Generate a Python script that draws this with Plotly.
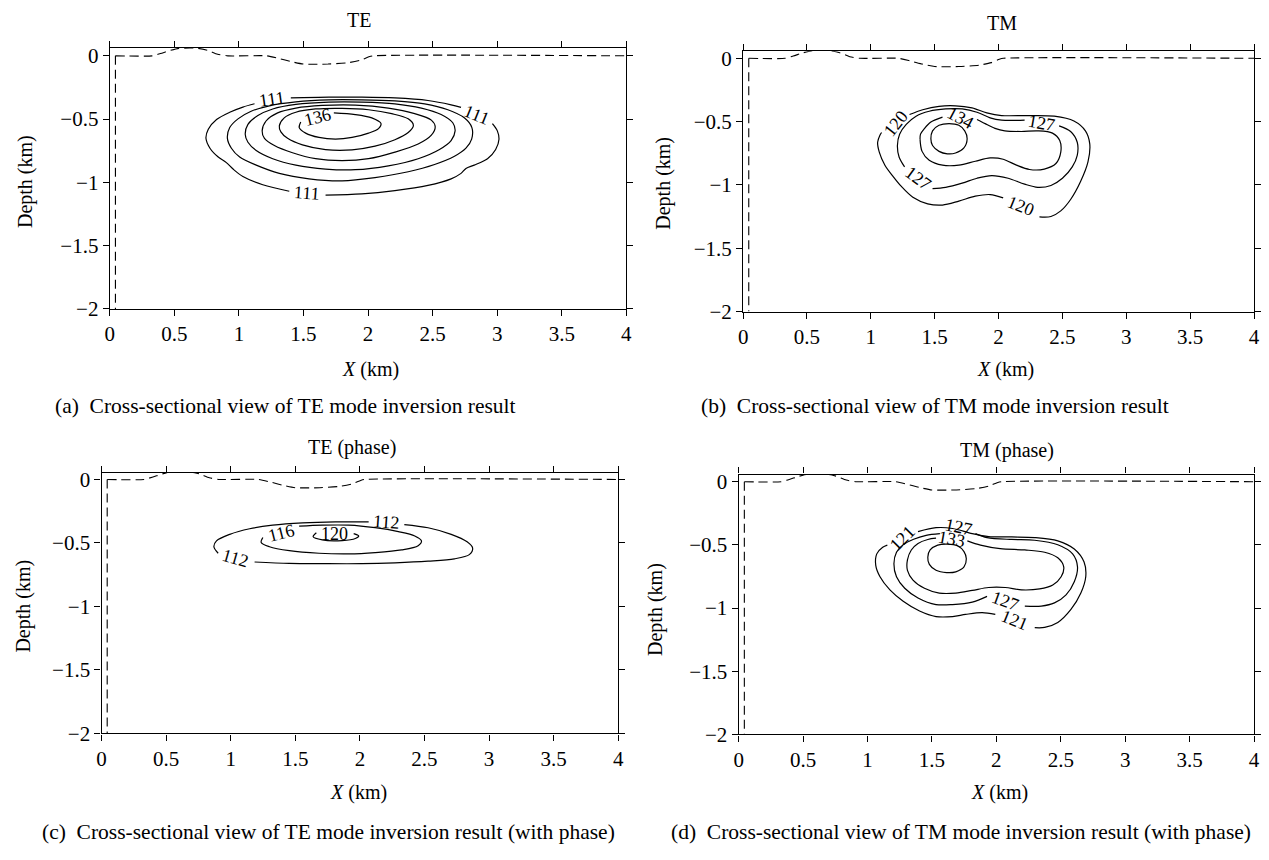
import plotly.graph_objects as go

FONT = "Liberation Serif"

# ---------------- data (km) ----------------
x_ticks = [0, 0.5, 1, 1.5, 2, 2.5, 3, 3.5, 4]
x_tick_text = ["0", "0.5", "1", "1.5", "2", "2.5", "3", "3.5", "4"]
y_ticks = [-2, -1.5, -1, -0.5, 0]
y_tick_text = ["\u22122", "\u22121.5", "\u22121", "\u22120.5", "0"]

# topography (dashed) and left model boundary
topo_x = [0.044, 0.329, 0.392, 0.472, 0.535, 0.677, 0.756, 0.835, 0.915, 1.215, 1.310, 1.405,
          1.500, 1.690, 1.848, 1.943, 2.006, 2.038, 4.0]
topo_y = [0, 0, 0.018, 0.044, 0.059, 0.060, 0.044, 0.013, 0, 0, -0.021, -0.046,
          -0.065, -0.065, -0.054, -0.034, -0.008, 0, 0]
edge_x = [0.044, 0.044]
edge_y = [0, -2]

# (a) TE
te_111_x = [1.402, 1.697, 1.952, 2.208, 2.464, 2.643, 2.720, None, 2.963, 3.001, 3.014, 2.988, 2.925,
            2.822, 2.758, 2.720, 2.643, 2.464, 2.208, 1.952, 1.671, None, 1.390, 1.185, 1.031, 0.955,
            0.903, 0.840, 0.776, 0.745, 0.763, 0.827, 0.929, 1.031, 1.121]
te_111_y = [-0.333, -0.327, -0.327, -0.333, -0.353, -0.387, -0.407, None, -0.536, -0.593, -0.658, -0.740,
            -0.813, -0.864, -0.890, -0.929, -0.972, -1.024, -1.065, -1.091, -1.101, None, -1.070, -1.019,
            -0.954, -0.895, -0.844, -0.800, -0.730, -0.652, -0.580, -0.503, -0.446, -0.405, -0.379]
te_116_x = [0.911, 0.929, 0.993, 1.095, 1.236, 1.441, 1.697, 1.952, 2.208, 2.438, 2.618, 2.745, 2.804,
            2.802, 2.758, 2.669, 2.515, 2.311, 2.054, 1.799, 1.543, 1.313, 1.134, 1.006, 0.942, 0.911]
te_116_y = [-0.652, -0.567, -0.498, -0.438, -0.395, -0.364, -0.348, -0.348, -0.356, -0.379, -0.426,
            -0.490, -0.567, -0.658, -0.730, -0.794, -0.859, -0.916, -0.962, -0.988, -0.972, -0.929,
            -0.864, -0.800, -0.730, -0.652]
te_121_x = [1.049, 1.070, 1.147, 1.262, 1.441, 1.697, 1.952, 2.208, 2.413, 2.566, 2.656, 2.674, 2.643,
            2.553, 2.388, 2.157, 1.901, 1.671, 1.441, 1.262, 1.134, 1.070, 1.049]
te_121_y = [-0.619, -0.542, -0.472, -0.420, -0.384, -0.366, -0.366, -0.379, -0.413, -0.464, -0.529,
            -0.593, -0.670, -0.740, -0.813, -0.869, -0.900, -0.895, -0.864, -0.813, -0.748, -0.683, -0.619]
te_126_x = [1.180, 1.210, 1.300, 1.441, 1.645, 1.901, 2.157, 2.361, 2.490, 2.520, 2.490, 2.388, 2.208,
            2.004, 1.799, 1.594, 1.415, 1.275, 1.198, 1.180]
te_126_y = [-0.593, -0.515, -0.451, -0.413, -0.392, -0.389, -0.413, -0.457, -0.508, -0.560, -0.627,
            -0.697, -0.761, -0.813, -0.828, -0.813, -0.766, -0.709, -0.652, -0.593]
te_131_x = [1.313, 1.351, 1.441, 1.594, 1.799, 2.004, 2.183, 2.311, 2.351, 2.311, 2.208, 2.054, 1.876,
            1.671, 1.492, 1.377, 1.325, 1.313]
te_131_y = [-0.554, -0.490, -0.446, -0.420, -0.415, -0.426, -0.457, -0.498, -0.550, -0.606, -0.663,
            -0.714, -0.743, -0.741, -0.704, -0.652, -0.601, -0.554]
te_136_x = [1.735, 1.901, 2.029, 2.100, 2.081, 2.004, 1.876, 1.748, 1.620, 1.517, 1.467, 1.479]
te_136_y = [-0.451, -0.464, -0.490, -0.534, -0.575, -0.611, -0.645, -0.658, -0.645, -0.611, -0.567, -0.523]
te_label_text = ["111", "111", "111", "136"]
te_label_x = [1.255, 2.845, 1.530, 1.610]
te_label_y = [-0.345, -0.465, -1.085, -0.482]

# (b) TM
tm_120_x = [1.303, 1.406, 1.534, 1.663, 1.792, 1.908, 2.024, 2.229, 2.436, 2.590, 2.680, 2.714, 2.700,
            2.642, 2.564, 2.487, 2.410, 2.320, None, 2.036, 1.934, 1.818, 1.689, 1.561, 1.445, 1.329,
            1.239, 1.175, 1.110, 1.066, 1.053, 1.071, 1.084]
tm_120_y = [-0.444, -0.406, -0.379, -0.375, -0.392, -0.431, -0.452, -0.452, -0.457, -0.495, -0.573,
            -0.676, -0.818, -0.973, -1.115, -1.205, -1.249, -1.252, None, -1.102, -1.076, -1.089,
            -1.128, -1.159, -1.149, -1.097, -1.012, -0.934, -0.844, -0.741, -0.663, -0.607, -0.586]
tm_127_x = [2.474, 2.564, 2.616, 2.616, 2.577, 2.500, 2.410, 2.307, 2.204, 2.075, 1.947, 1.831, 1.715,
            1.586, 1.483, None, 1.264, 1.221, 1.208, 1.225, 1.277, 1.354, 1.457, 1.586, 1.715, 1.831,
            1.934, 2.024, 2.204]
tm_127_y = [-0.534, -0.578, -0.663, -0.766, -0.857, -0.947, -1.004, -1.019, -0.994, -0.947, -0.926,
            -0.947, -0.986, -1.019, -1.029, None, -0.857, -0.779, -0.689, -0.599, -0.522, -0.457,
            -0.418, -0.400, -0.400, -0.426, -0.470, -0.488, -0.488]
tm_134_x = [1.385, 1.401, 1.457, 1.561, 1.689, 1.818, 1.934, 2.036, 2.140, 2.242, 2.358, 2.449, 2.487,
            2.479, 2.422, 2.307, 2.178, 2.049, 1.972, 1.895, 1.831, None, 1.561, 1.470, 1.419, 1.389, 1.385]
tm_134_y = [-0.638, -0.735, -0.805, -0.844, -0.844, -0.813, -0.787, -0.797, -0.844, -0.878, -0.875,
            -0.831, -0.741, -0.650, -0.591, -0.573, -0.578, -0.573, -0.553, -0.516, -0.483, None,
            -0.464, -0.503, -0.555, -0.599, -0.638]
tm_141_x = [1.754, 1.727, 1.663, 1.599, 1.534, 1.483, 1.470, 1.483, 1.534, 1.612, 1.689, 1.735, 1.754]
tm_141_y = [-0.635, -0.710, -0.748, -0.754, -0.735, -0.689, -0.635, -0.573, -0.529, -0.516, -0.529,
            -0.573, -0.635]
tm_label_text = ["120", "134", "127", "127", "120"]
tm_label_x = [1.190, 1.705, 2.335, 1.370, 2.175]
tm_label_y = [-0.515, -0.470, -0.510, -0.943, -1.170]

# (c) TE (phase)
tep_112_x = [2.344, 2.528, 2.707, 2.830, 2.873, 2.847, 2.732, 2.528, 2.272, 2.016, 1.709, 1.454, 1.185,
             None, 0.903, 0.870, 0.890, 0.993, 1.147, 1.325, 1.556, 1.811, 2.068]
tep_112_y = [-0.355, -0.380, -0.432, -0.491, -0.540, -0.592, -0.625, -0.643, -0.656, -0.663, -0.663,
             -0.661, -0.650, None, -0.581, -0.530, -0.484, -0.432, -0.388, -0.360, -0.342, -0.334, -0.334]
tep_116_x = [1.530, 1.709, 1.914, 2.118, 2.298, 2.425, 2.477, 2.451, 2.323, 2.118, 1.914, 1.684, 1.454,
             1.300, 1.236, 1.249]
tep_116_y = [-0.368, -0.360, -0.360, -0.380, -0.411, -0.445, -0.484, -0.522, -0.555, -0.576, -0.586,
             -0.581, -0.561, -0.530, -0.496, -0.457]
tep_120_x = [1.663, 1.638, 1.709, 1.863, 1.965, 1.991, 1.952]
tep_120_y = [-0.419, -0.450, -0.476, -0.481, -0.465, -0.445, -0.427]
tep_label_text = ["112", "116", "120", "112"]
tep_label_x = [2.206, 1.389, 1.800, 1.035]
tep_label_y = [-0.337, -0.420, -0.432, -0.622]

# (d) TM (phase)
tmp_121_x = [1.392, 1.532, 1.660, 1.813, 1.940, 2.120, 2.298, 2.477, 2.605, 2.681, 2.694, 2.656, 2.579,
             2.477, 2.375, 2.298, None, 1.992, 1.890, 1.762, 1.660, 1.532, 1.404, 1.277, 1.174, 1.097,
             1.064, 1.072, 1.118, 1.154]
tmp_121_y = [-0.395, -0.364, -0.370, -0.411, -0.434, -0.437, -0.442, -0.468, -0.533, -0.636, -0.752,
             -0.881, -1.011, -1.114, -1.153, -1.155, None, -1.050, -1.036, -1.050, -1.067, -1.067,
             -1.023, -0.946, -0.856, -0.752, -0.662, -0.571, -0.519, -0.502]
tmp_127_x = [1.838, 1.928, 2.120, 2.298, 2.477, 2.592, 2.630, 2.605, 2.541, 2.451, 2.349, 2.221, None,
             1.928, 1.813, 1.660, 1.532, 1.392, 1.289, 1.225, 1.205, 1.225, 1.277, 1.358, 1.455, 1.562]
tmp_127_y = [-0.411, -0.442, -0.457, -0.463, -0.499, -0.571, -0.674, -0.791, -0.895, -0.959, -0.984,
             -0.984, None, -0.907, -0.953, -0.972, -0.972, -0.920, -0.843, -0.752, -0.649, -0.558,
             -0.499, -0.455, -0.424, -0.411]
tmp_133_x = [1.775, 1.877, 2.030, 2.221, 2.375, 2.477, 2.523, 2.503, 2.438, 2.336, 2.196, 2.068, 1.940,
             1.813, 1.685, 1.557, 1.442, 1.353, 1.310, 1.310, 1.340, 1.392, 1.468, 1.532]
tmp_133_y = [-0.468, -0.502, -0.530, -0.540, -0.558, -0.602, -0.674, -0.752, -0.817, -0.848, -0.856,
             -0.837, -0.837, -0.860, -0.881, -0.881, -0.843, -0.778, -0.701, -0.618, -0.540, -0.488,
             -0.457, -0.447]
tmp_139_x = [1.767, 1.749, 1.685, 1.614, 1.532, 1.480, 1.468, 1.486, 1.545, 1.621, 1.698, 1.749, 1.767]
tmp_139_y = [-0.610, -0.674, -0.713, -0.719, -0.701, -0.654, -0.597, -0.540, -0.502, -0.494, -0.507,
             -0.553, -0.610]
tmp_label_text = ["121", "127", "133", "127", "121"]
tmp_label_x = [1.273, 1.710, 1.654, 2.070, 2.140]
tmp_label_y = [-0.449, -0.360, -0.455, -0.940, -1.097]

titles = ["TE", "TM", "TE (phase)", "TM (phase)"]
captions = [
    "(a)\u00a0\u00a0Cross-sectional view of TE mode inversion result",
    "(b)\u00a0\u00a0Cross-sectional view of TM mode inversion result",
    "(c)\u00a0\u00a0Cross-sectional view of TE mode inversion result (with phase)",
    "(d)\u00a0\u00a0Cross-sectional view of TM mode inversion result (with phase)",
]

# ---------------- figure ----------------
PAGE_W, PAGE_H = 1269, 860
OFF = 8                      # default body margin of the html page
W, H = PAGE_W - 2 * OFF, PAGE_H - 2 * OFF
fig = go.Figure()


def px_x(p):
    return min(1.0, max(0.0, (p - OFF) / W))


def px_y(p):
    return min(1.0, max(0.0, 1 - (p - OFF) / H))


panels = [
    dict(sfx="", lines=[(te_111_x, te_111_y), (te_116_x, te_116_y), (te_121_x, te_121_y),
                        (te_126_x, te_126_y), (te_131_x, te_131_y), (te_136_x, te_136_y)],
         labels=(te_label_text, te_label_x, te_label_y), angles=[-8, 22, 4, -14],
         box=(105.6, 626.8, 43.7, 310.0), ytop=0.062,
         title_xy=(357, 15), ylab_xy=(20.6, 180), xlab_xy=(369, 371.7), cap_xy=(282.5, 409)),
    dict(sfx="2", lines=[(tm_120_x, tm_120_y), (tm_127_x, tm_127_y), (tm_134_x, tm_134_y),
                         (tm_141_x, tm_141_y)],
         labels=(tm_label_text, tm_label_x, tm_label_y), angles=[-52, 28, 10, 36, 22],
         box=(744.6, 1260.0, 47.0, 312.7), ytop=0.056,
         title_xy=(1006, 18), ylab_xy=(664.3, 181.7), xlab_xy=(1008.9, 371.7), cap_xy=(938, 409)),
    dict(sfx="3", lines=[(tep_112_x, tep_112_y), (tep_116_x, tep_116_y), (tep_120_x, tep_120_y)],
         labels=(tep_label_text, tep_label_x, tep_label_y), angles=[4, -14, 0, 16],
         box=(97.3, 618.6, 477.3, 743.3), ytop=0.052,
         title_xy=(350.5, 451), ylab_xy=(18.6, 613.3), xlab_xy=(356.7, 803.3), cap_xy=(325.8, 844)),
    dict(sfx="4", lines=[(tmp_121_x, tmp_121_y), (tmp_127_x, tmp_127_y), (tmp_133_x, tmp_133_y),
                         (tmp_139_x, tmp_139_y)],
         labels=(tmp_label_text, tmp_label_x, tmp_label_y), angles=[-45, 12, 10, 20, 22],
         box=(740.1, 1260.0, 479.0, 744.3), ytop=0.057,
         title_xy=(1011, 455), ylab_xy=(656.2, 616.7), xlab_xy=(1002.8, 803.3), cap_xy=(964.3, 844)),
]

axis_common = dict(showline=True, linecolor="black", linewidth=1.2, mirror="ticks",
                   ticks="outside", ticklen=6, tickwidth=1, tickcolor="black",
                   showgrid=False, zeroline=False, fixedrange=True,
                   tickfont=dict(family=FONT, size=21, color="black"))

annotations = []
layout_axes = {}
for i, p in enumerate(panels):
    sfx = p["sfx"]
    xa, ya = "x" + sfx, "y" + sfx
    x0, x1, y0, y1 = p["box"]
    layout_axes["xaxis" + sfx] = dict(axis_common, domain=[px_x(x0), px_x(x1)], anchor=ya,
                                      range=[0, 4], tickvals=x_ticks, ticktext=x_tick_text)
    layout_axes["yaxis" + sfx] = dict(axis_common, domain=[px_y(y1), px_y(y0)], anchor=xa,
                                      range=[-2, p["ytop"]], tickvals=y_ticks, ticktext=y_tick_text)
    # topography and model edge (dashed)
    for lx, ly in [(topo_x, topo_y), (edge_x, edge_y)]:
        fig.add_trace(go.Scatter(x=lx, y=ly, xaxis=xa, yaxis=ya, mode="lines",
                                 line=dict(color="black", width=1.1, dash="9px,5px",
                                           shape="spline", smoothing=0.6),
                                 hoverinfo="skip", showlegend=False))
    # contour lines
    for lx, ly in p["lines"]:
        fig.add_trace(go.Scatter(x=lx, y=ly, xaxis=xa, yaxis=ya, mode="lines",
                                 line=dict(color="black", width=1.2, shape="spline", smoothing=0.9),
                                 hoverinfo="skip", showlegend=False))
    # contour labels
    txt, lxs, lys = p["labels"]
    for t, lx, ly, ang in zip(txt, lxs, lys, p["angles"]):
        annotations.append(dict(x=lx, y=ly, xref=xa, yref=ya, text=t, showarrow=False,
                                textangle=ang, font=dict(family=FONT, size=18, color="black")))
    # panel title
    tx, ty = p["title_xy"]
    annotations.append(dict(x=px_x(tx), y=px_y(ty), xref="paper", yref="paper", text=titles[i],
                            showarrow=False, xanchor="center", yanchor="middle",
                            font=dict(family=FONT, size=20, color="black")))
    # axis titles
    lx, ly = p["ylab_xy"]
    annotations.append(dict(x=px_x(lx), y=px_y(ly), xref="paper", yref="paper", text="Depth (km)",
                            showarrow=False, textangle=-90, xanchor="center", yanchor="middle",
                            font=dict(family=FONT, size=20, color="black")))
    lx, ly = p["xlab_xy"]
    annotations.append(dict(x=px_x(lx), y=px_y(ly), xref="paper", yref="paper", text="<i>X</i> (km)",
                            showarrow=False, xanchor="center", yanchor="middle",
                            font=dict(family=FONT, size=20, color="black")))
    cx, cy = p["cap_xy"]
    annotations.append(dict(x=px_x(cx), y=px_y(cy), xref="paper", yref="paper", text=captions[i],
                            showarrow=False, xanchor="center", yanchor="middle",
                            font=dict(family=FONT, size=21.5, color="black")))

fig.update_layout(width=W, height=H, autosize=False, margin=dict(l=0, r=0, t=0, b=0),
                  paper_bgcolor="white", plot_bgcolor="white", showlegend=False,
                  annotations=annotations, **layout_axes)

fig.write_html("out.html")
